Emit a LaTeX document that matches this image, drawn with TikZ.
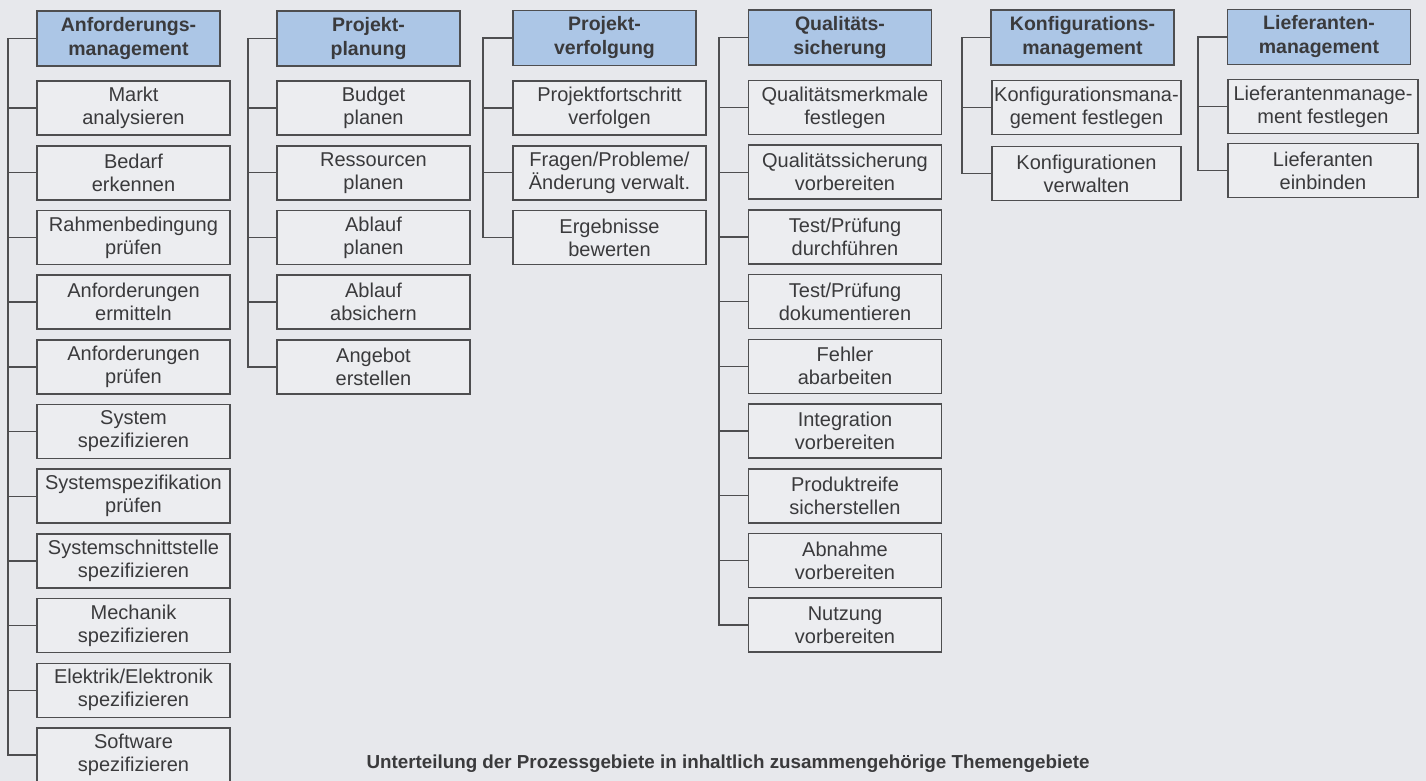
\documentclass[tikz,border=0pt]{standalone}
\usepackage{fontspec}
\setmainfont{Liberation Sans}
\usetikzlibrary{calc}
\definecolor{bg}{RGB}{231,232,236}
\definecolor{boxfill}{RGB}{236,237,240}
\definecolor{hdrfill}{RGB}{172,198,230}
\definecolor{edge}{RGB}{78,78,80}
\definecolor{ink}{RGB}{58,58,60}
\tikzset{
  hdr/.style={draw=edge, line width=1.6pt, fill=hdrfill, minimum width=183pt, minimum height=55pt,
    inner sep=0pt, align=center, text=ink, font=\fontsize{19.5}{24}\selectfont\bfseries},
  task/.style={draw=edge, line width=1.6pt, fill=boxfill, minimum width=193pt, minimum height=54pt,
    inner sep=0pt, align=center, text=ink, font=\fontsize{20}{23}\selectfont},
  conn/.style={draw=edge, line width=1.4pt},
  captext/.style={text=ink, inner sep=0pt, font=\fontsize{18.8}{22}\selectfont\bfseries}
}
\begin{document}
\begin{tikzpicture}[x=1pt,y=-1pt]
\fill[bg] (0,0) rectangle (1426,781);
\useasboundingbox (0,0) rectangle (1426,781);
\def\pitch{64.7}
% ---------- Column 1
\node[hdr] (h1) at (128.5,38.5) {Anforderungs-\\management};
\foreach \t [count=\i from 0] in {
  {Markt\\analysieren},{Bedarf\\erkennen},{Rahmenbedingung\\prüfen},{Anforderungen\\ermitteln},
  {Anforderungen\\prüfen},{System\\spezifizieren},{Systemspezifikation\\prüfen},
  {Systemschnittstelle\\spezifizieren},{Mechanik\\spezifizieren},{Elektrik/Elektronik\\spezifizieren},
  {Software\\spezifizieren}}
  \node[task] (a\i) at (133.5,{108+\pitch*\i}) {\t};
\coordinate (v1) at (8,38.5);
\draw[conn] (h1.west) -- (v1) |- (a10.west);
\foreach \i in {0,...,9} \draw[conn] (a\i.west) -- (a\i.west -| v1);
% ---------- Column 2
\node[hdr] (h2) at (368.5,38.5) {Projekt-\\planung};
\foreach \t [count=\i from 0] in {
  {Budget\\planen},{Ressourcen\\planen},{Ablauf\\planen},{Ablauf\\absichern},{Angebot\\erstellen}}
  \node[task] (b\i) at (373.5,{108+\pitch*\i}) {\t};
\coordinate (v2) at (248,38.5);
\draw[conn] (h2.west) -- (v2) |- (b4.west);
\foreach \i in {0,...,3} \draw[conn] (b\i.west) -- (b\i.west -| v2);
% ---------- Column 3
\node[hdr] (h3) at (604.5,38) {Projekt-\\verfolgung};
\foreach \t [count=\i from 0] in {
  {Projektfortschritt\\verfolgen},{Fragen/Probleme/\\Änderung verwalt.},{Ergebnisse\\bewerten}}
  \node[task] (c\i) at (609.5,{108+\pitch*\i}) {\t};
\coordinate (v3) at (483,38);
\draw[conn] (h3.west) -- (v3) |- (c2.west);
\foreach \i in {0,1} \draw[conn] (c\i.west) -- (c\i.west -| v3);
% ---------- Column 4
\node[hdr] (h4) at (840,37.5) {Qualitäts-\\sicherung};
\foreach \t [count=\i from 0] in {
  {Qualitätsmerkmale\\festlegen},{Qualitätssicherung\\vorbereiten},{Test/Prüfung\\durchführen},
  {Test/Prüfung\\dokumentieren},{Fehler\\abarbeiten},{Integration\\vorbereiten},
  {Produktreife\\sicherstellen},{Abnahme\\vorbereiten},{Nutzung\\vorbereiten}}
  \node[task] (d\i) at (845,{107.5+\pitch*\i}) {\t};
\coordinate (v4) at (719,37.5);
\draw[conn] (h4.west) -- (v4) |- (d8.west);
\foreach \i in {0,...,7} \draw[conn] (d\i.west) -- (d\i.west -| v4);
% ---------- Column 5
\node[hdr] (h5) at (1082.5,37.5) {Konfigurations-\\management};
\node[task, minimum width=189pt] (e0) at (1086.5,107.5) {Konfigurationsmana-\\gement festlegen};
\node[task, minimum width=189pt] (e1) at (1086.5,173.5) {Konfigurationen\\verwalten};
\coordinate (v5) at (962,37.5);
\draw[conn] (h5.west) -- (v5) |- (e1.west);
\draw[conn] (e0.west) -- (e0.west -| v5);
% ---------- Column 6
\node[hdr] (h6) at (1319,37) {Lieferanten-\\management};
\node[task, minimum width=190pt] (f0) at (1323,106.5) {Lieferantenmanage-\\ment festlegen};
\node[task, minimum width=190pt] (f1) at (1323,170.5) {Lieferanten\\einbinden};
\coordinate (v6) at (1198,37);
\draw[conn] (h6.west) -- (v6) |- (f1.west);
\draw[conn] (f0.west) -- (f0.west -| v6);
% ---------- Caption
\node[captext, anchor=base] (capt) at (728,768) {Unterteilung der Prozessgebiete in inhaltlich zusammengehörige Themengebiete};
\end{tikzpicture}
\end{document}
